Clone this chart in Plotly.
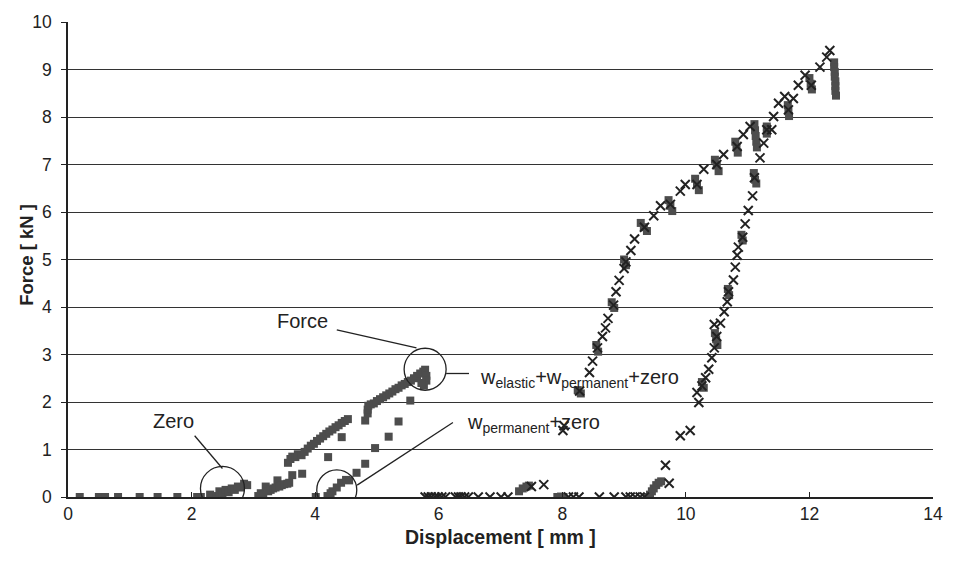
import plotly.graph_objects as go

# ---------------- data ----------------
# dark grey square markers (dense "Force" record + sparse squares)
sq_x = [0.19, 0.50, 0.60, 0.81, 1.16, 1.45, 1.77, 2.09, 2.15,
        2.30, 2.40, 2.45, 2.50, 2.55, 2.60, 2.65, 2.70, 2.75, 2.80, 2.85, 2.90,
        3.08, 3.12, 3.16, 3.20, 3.24, 3.28, 3.32, 3.36, 3.39, 3.42, 3.46, 3.50, 3.55, 3.58,
        3.56, 3.60, 3.63, 3.68, 3.72, 3.78, 3.83, 3.88, 3.93, 3.98, 4.03, 4.08, 4.13, 4.18,
        4.23, 4.28, 4.33, 4.38, 4.43, 4.48, 4.53,
        4.85, 4.85, 4.86, 4.90, 4.95, 5.00, 5.05, 5.10, 5.15, 5.20, 5.25, 5.30, 5.35, 5.40,
        5.45, 5.50, 5.55, 5.60, 5.65, 5.70, 5.75, 5.78, 5.80, 5.80, 5.76, 5.72,
        4.01, 4.20, 4.25, 4.28, 4.35, 4.42, 4.50,
        3.63, 3.79, 4.21, 4.43, 4.81, 5.35, 5.19, 4.97, 4.81, 4.67, 4.55, 5.54,
        7.30, 7.36, 7.42, 7.46, 7.92, 7.98, 8.02,
        9.38, 9.42, 9.45, 9.48, 9.52, 9.56, 9.60,
        8.25, 8.30, 8.55, 8.58, 8.80, 8.84, 9.00, 9.03, 9.27, 9.32, 9.37,
        9.72, 9.75, 9.78, 10.15, 10.18, 10.21, 10.47, 10.50, 10.53, 10.80, 10.82, 10.84,
        11.11, 11.12, 11.13, 11.14, 11.15, 11.31, 11.31, 11.65, 11.66, 11.67,
        12.00, 12.02, 12.04,
        12.40, 12.40, 12.41, 12.41, 12.42, 12.42, 12.42, 12.43,
        10.26, 10.29, 10.47, 10.49, 10.51, 10.68, 10.70, 10.90, 10.92,
        11.10, 11.12, 11.14]
sq_y = [0, 0, 0, 0, 0, 0, 0, 0, 0,
        0.05, 0.02, 0.12, 0.08, 0.15, 0.10, 0.18, 0.15, 0.22, 0.20, 0.28, 0.25,
        0.02, 0.08, 0.05, 0.22, 0.12, 0.15, 0.18, 0.20, 0.35, 0.22, 0.25, 0.27, 0.28, 0.30,
        0.72, 0.80, 0.85, 0.84, 0.90, 0.88, 0.95, 1.02, 1.08, 1.12, 1.18, 1.23, 1.28, 1.33,
        1.38, 1.42, 1.47, 1.51, 1.56, 1.60, 1.64,
        1.76, 1.84, 1.92, 1.95, 1.97, 2.02, 2.06, 2.10, 2.14, 2.18, 2.22, 2.27, 2.30, 2.35,
        2.38, 2.42, 2.45, 2.50, 2.55, 2.60, 2.64, 2.68, 2.55, 2.45, 2.35, 2.40,
        0.00, 0.02, 0.08, 0.12, 0.20, 0.30, 0.36,
        0.46, 0.49, 0.84, 1.26, 1.61, 1.59, 1.27, 1.03, 0.70, 0.51, 0.35, 2.03,
        0.12, 0.18, 0.22, 0.24, 0.00, 0.01, 0.00,
        0.00, 0.05, 0.12, 0.18, 0.25, 0.30, 0.33,
        2.25, 2.18, 3.20, 3.06, 4.10, 3.98, 5.00, 4.88, 5.77, 5.68, 5.60,
        6.25, 6.13, 6.02, 6.70, 6.58, 6.46, 7.10, 6.98, 6.86, 7.48, 7.36, 7.25,
        7.85, 7.72, 7.60, 7.48, 7.36, 7.80, 7.65, 8.25, 8.12, 8.02,
        8.82, 8.70, 8.58,
        9.15, 9.05, 8.95, 8.85, 8.75, 8.65, 8.55, 8.45,
        2.42, 2.30, 3.45, 3.32, 3.20, 4.38, 4.25, 5.52, 5.40,
        6.82, 6.68, 6.60]

# black "x" markers
xm_x = [5.78, 5.83, 5.88, 5.94, 5.99, 6.05, 6.11, 6.27, 6.32, 6.36, 6.42, 6.48, 6.64, 6.83, 7.01, 7.12,
        7.50, 7.70,
        8.10, 8.18, 8.27, 8.60, 8.84, 9.03, 9.10, 9.18, 9.26, 9.33,
        9.73, 9.67,
        9.91, 10.07, 10.21, 10.18, 10.26, 10.32, 10.37, 10.42, 10.46, 10.50, 10.56, 10.46, 10.62,
        10.67, 10.69, 10.77, 10.80, 10.83, 10.85, 10.92, 10.96, 11.01, 11.08, 11.11, 11.20, 11.26,
        8.01, 8.03, 8.28, 8.44, 8.49, 8.57, 8.65, 8.70, 8.74, 8.83, 8.87, 8.92, 9.00, 9.03,
        9.11, 9.17, 9.33, 9.48, 9.59, 9.75, 9.91, 9.99, 10.18, 10.29, 10.50, 10.61, 10.83,
        10.93, 11.04, 11.31, 11.39, 11.42, 11.50, 11.60, 11.66, 11.74, 11.82, 11.93, 12.03,
        12.17, 12.28, 12.33]
xm_y = [0, 0, 0, 0, 0, 0, 0, 0, 0, 0, 0, 0, 0, 0, 0, 0,
        0.22, 0.26,
        0, 0, 0, 0, 0, 0, 0, 0, 0, 0,
        0.29, 0.67,
        1.29, 1.40, 1.99, 2.20, 2.34, 2.51, 2.69, 2.93, 3.14, 3.38, 3.66, 3.63, 3.90,
        4.11, 4.32, 4.57, 4.84, 5.09, 5.26, 5.47, 5.75, 6.03, 6.34, 6.72, 7.14, 7.45,
        1.40, 1.50, 2.23, 2.62, 2.86, 3.14, 3.38, 3.56, 3.76, 4.04, 4.32, 4.56, 4.81, 4.95,
        5.19, 5.43, 5.68, 5.92, 6.13, 6.16, 6.44, 6.58, 6.58, 6.90, 7.00, 7.21, 7.38,
        7.63, 7.80, 7.73, 7.73, 8.01, 8.29, 8.43, 8.15, 8.39, 8.67, 8.88, 8.67,
        9.05, 9.26, 9.40]

x_ticks = [0, 2, 4, 6, 8, 10, 12, 14]
y_ticks = list(range(0, 11))

FONT = "Liberation Sans, Arial, sans-serif"
INK = "#222222"

fig = go.Figure()
fig.add_trace(go.Scatter(x=sq_x, y=sq_y, mode="markers",
                         marker=dict(symbol="square", size=8, color="#4d4d4d",
                                     line=dict(width=0)),
                         showlegend=False, hoverinfo="skip"))
fig.add_trace(go.Scatter(x=xm_x, y=xm_y, mode="markers",
                         marker=dict(symbol="x-thin", size=9,
                                     line=dict(width=2, color=INK)),
                         showlegend=False, hoverinfo="skip"))

# circles and leader lines of the callouts
circ = [(5.78, 2.69, 21), (2.50, 0.18, 22), (4.35, 0.15, 20)]
for cx, cy, r in circ:
    fig.add_shape(type="circle", xref="x", yref="y", xsizemode="pixel", ysizemode="pixel",
                  xanchor=cx, yanchor=cy, x0=-r, x1=r, y0=-r, y1=r,
                  line=dict(color=INK, width=1.3))
leaders = [((4.35, 3.52), (5.64, 3.14)),
           ((6.12, 2.60), (6.49, 2.60)),
           ((2.05, 1.29), (2.50, 0.60)),
           ((4.68, 0.25), (6.23, 1.57))]
for (a, b), (c, d) in leaders:
    fig.add_shape(type="line", xref="x", yref="y", x0=a, y0=b, x1=c, y1=d,
                  line=dict(color=INK, width=1.3))

afont = dict(family=FONT, size=20, color=INK)
fig.add_annotation(x=3.79, y=3.70, text="Force", showarrow=False, font=afont)
fig.add_annotation(x=1.70, y=1.61, text="Zero", showarrow=False, font=afont)
fig.add_annotation(x=6.64, y=2.50, xanchor="left", yanchor="middle",
                   text="w<sub>elastic</sub>+w<sub>permanent</sub>+zero",
                   showarrow=False, font=afont)
fig.add_annotation(x=6.42, y=1.55, xanchor="left", yanchor="middle",
                   text="w<sub>permanent</sub>+zero", showarrow=False, font=afont)

# axis titles
fig.add_annotation(xref="paper", yref="paper", x=0.5, y=0, yshift=-40,
                   xanchor="center", yanchor="middle",
                   text="<b>Displacement [ mm ]</b>", showarrow=False,
                   font=dict(family=FONT, size=19.5, color=INK))
fig.add_annotation(xref="paper", yref="paper", x=0, y=0.51, xshift=-41, textangle=-90,
                   xanchor="center", yanchor="middle",
                   text="<b>Force [ kN ]</b>", showarrow=False,
                   font=dict(family=FONT, size=18.5, color=INK))

fig.update_layout(
    width=955, height=578,
    margin=dict(l=68, r=18, t=17, b=81),
    paper_bgcolor="white", plot_bgcolor="white",
    font=dict(family=FONT, size=17, color=INK),
    xaxis=dict(range=[0, 14], tickvals=x_ticks, showgrid=False, zeroline=False,
               showline=True, linecolor=INK, linewidth=1.5,
               ticks="inside", ticklen=5, tickcolor=INK,
               tickfont=dict(family=FONT, size=17.5, color=INK)),
    yaxis=dict(range=[0, 10], tickvals=y_ticks, showgrid=True, gridcolor="#333333",
               gridwidth=1.4, zeroline=False, showline=True, linecolor=INK, linewidth=1.5,
               ticks="outside", ticklen=5, tickcolor=INK, ticklabelstandoff=6,
               tickfont=dict(family=FONT, size=17.5, color=INK)),
)

fig.write_html("out.html", config={"displayModeBar": False},
               post_script="document.body.style.margin='0';document.body.style.padding='0';")
